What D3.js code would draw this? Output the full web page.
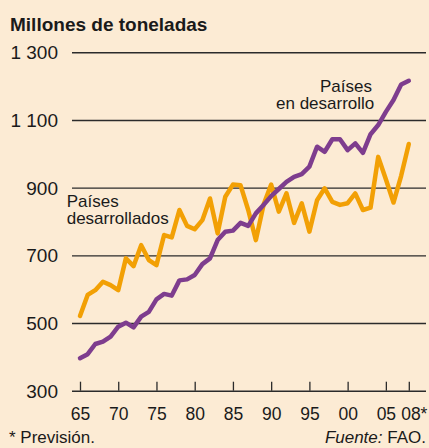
<!DOCTYPE html>
<html>
<head>
<meta charset="utf-8">
<script src="https://cdn.jsdelivr.net/npm/d3@7"></script>
<style>
  html, body { margin: 0; padding: 0; background: #fcebd4; }
  svg { display: block; font-family: "Liberation Sans", Arial, Helvetica, sans-serif; }
</style>
</head>
<body>
<svg id="chart" width="429" height="448"></svg>
<script>
// Cereal production, million tonnes, 1965–2008 (2008 forecast)
const years = d3.range(1965, 2009);
const developing = [396, 408, 438, 445, 460, 489, 501, 487, 519, 533,
                    570, 586, 581, 626, 629, 642, 674, 691, 745, 770,
                    773, 796, 787, 824, 849, 875, 896, 917, 932, 940,
                    962, 1021, 1006, 1043, 1043, 1011, 1031, 1003, 1058, 1085,
                    1124, 1159, 1205, 1216];
const developed = [521, 583, 597, 622, 612, 597, 691, 668, 730, 686,
                   671, 760, 753, 834, 787, 777, 804, 868, 765, 873,
                   909, 907, 834, 745, 849, 909, 829, 883, 796, 854,
                   770, 863, 898, 858, 849, 854, 883, 834, 841, 991,
                   925, 856, 935, 1029];
const yTicks = [300, 500, 700, 900, 1100, 1300];
const xTicks = [1965, 1970, 1975, 1980, 1985, 1990, 1995, 2000, 2005, 2008];
const xTickLabels = ["65", "70", "75", "80", "85", "90", "95", "00", "05", "08*"];

const svg = d3.select("#chart");
const bg = "#fcebd4";
const ink = "#1a1a1a";
const purple = "#7e3d8e";
const orange = "#f2a005";

svg.append("rect").attr("width", 429).attr("height", 448).attr("fill", bg);

const x = d3.scaleLinear().domain([1965, 2008]).range([80, 408.8]);
const y = d3.scaleLinear().domain([300, 1300]).range([390.7, 52.3]);

const esLocale = d3.formatLocale({decimal: ",", thousands: " ", grouping: [3], currency: ["", " €"]});
const fmt = esLocale.format(",d");

// Title
svg.append("text")
  .attr("x", 10).attr("y", 31)
  .attr("font-size", 19).attr("font-weight", "bold").attr("fill", ink)
  .text("Millones de toneladas");

// Horizontal gridlines with value labels
const yAxis = d3.axisLeft(y).tickValues(yTicks).tickFormat(fmt).tickSize(0).tickPadding(0);
const gy = svg.append("g").attr("transform", "translate(58,0)").call(yAxis);
gy.select(".domain").remove();
gy.selectAll(".tick text")
  .attr("font-size", 19).attr("fill", ink).attr("font-family", null)
  .attr("dy", "0.35em");
gy.selectAll(".tick").append("line")
  .attr("x1", 14).attr("x2", 368)
  .attr("stroke", "#2b2b2b").attr("stroke-width", 1.4);

// X axis: upward ticks on the baseline
const xAxis = d3.axisBottom(x).tickValues(xTicks)
  .tickFormat((d, i) => xTickLabels[i]).tickSize(0).tickPadding(0);
const gx = svg.append("g").attr("transform", `translate(0,${y(300)})`).call(xAxis);
gx.select(".domain").remove();
gx.selectAll(".tick line").remove();
gx.selectAll(".tick").append("line")
  .attr("y1", 0).attr("y2", -9)
  .attr("stroke", "#2b2b2b").attr("stroke-width", 1.3);
gx.selectAll(".tick text")
  .attr("font-size", 17.5).attr("fill", ink).attr("font-family", null)
  .attr("y", 29).attr("dy", 0)
  .attr("dx", (d, i) => i === xTicks.length - 1 ? 5 : 0);

// Lines
const line = d3.line().x((d, i) => x(years[i])).y(d => y(d));

svg.append("path").datum(developed)
  .attr("d", line).attr("fill", "none")
  .attr("stroke", orange).attr("stroke-width", 4.5)
  .attr("stroke-linejoin", "round").attr("stroke-linecap", "round");

svg.append("path").datum(developing)
  .attr("d", line).attr("fill", "none")
  .attr("stroke", purple).attr("stroke-width", 4.5)
  .attr("stroke-linejoin", "round").attr("stroke-linecap", "round");

// Series labels
const lab = svg.append("g").attr("font-size", 17).attr("fill", ink);
lab.append("text").attr("x", 320).attr("y", 91.7).text("Países");
lab.append("text").attr("x", 276).attr("y", 109.3).text("en desarrollo");
lab.append("text").attr("x", 66.7).attr("y", 206.7).text("Países");
lab.append("text").attr("x", 66.7).attr("y", 224).text("desarrollados");

// Footer notes
svg.append("text").attr("x", 9).attr("y", 443)
  .attr("font-size", 17).attr("fill", ink).text("* Previsión.");
const src = svg.append("text").attr("x", 426).attr("y", 443)
  .attr("font-size", 17).attr("fill", ink).attr("text-anchor", "end");
src.append("tspan").attr("font-style", "italic").text("Fuente:");
src.append("tspan").text(" FAO.");
</script>
</body>
</html>
